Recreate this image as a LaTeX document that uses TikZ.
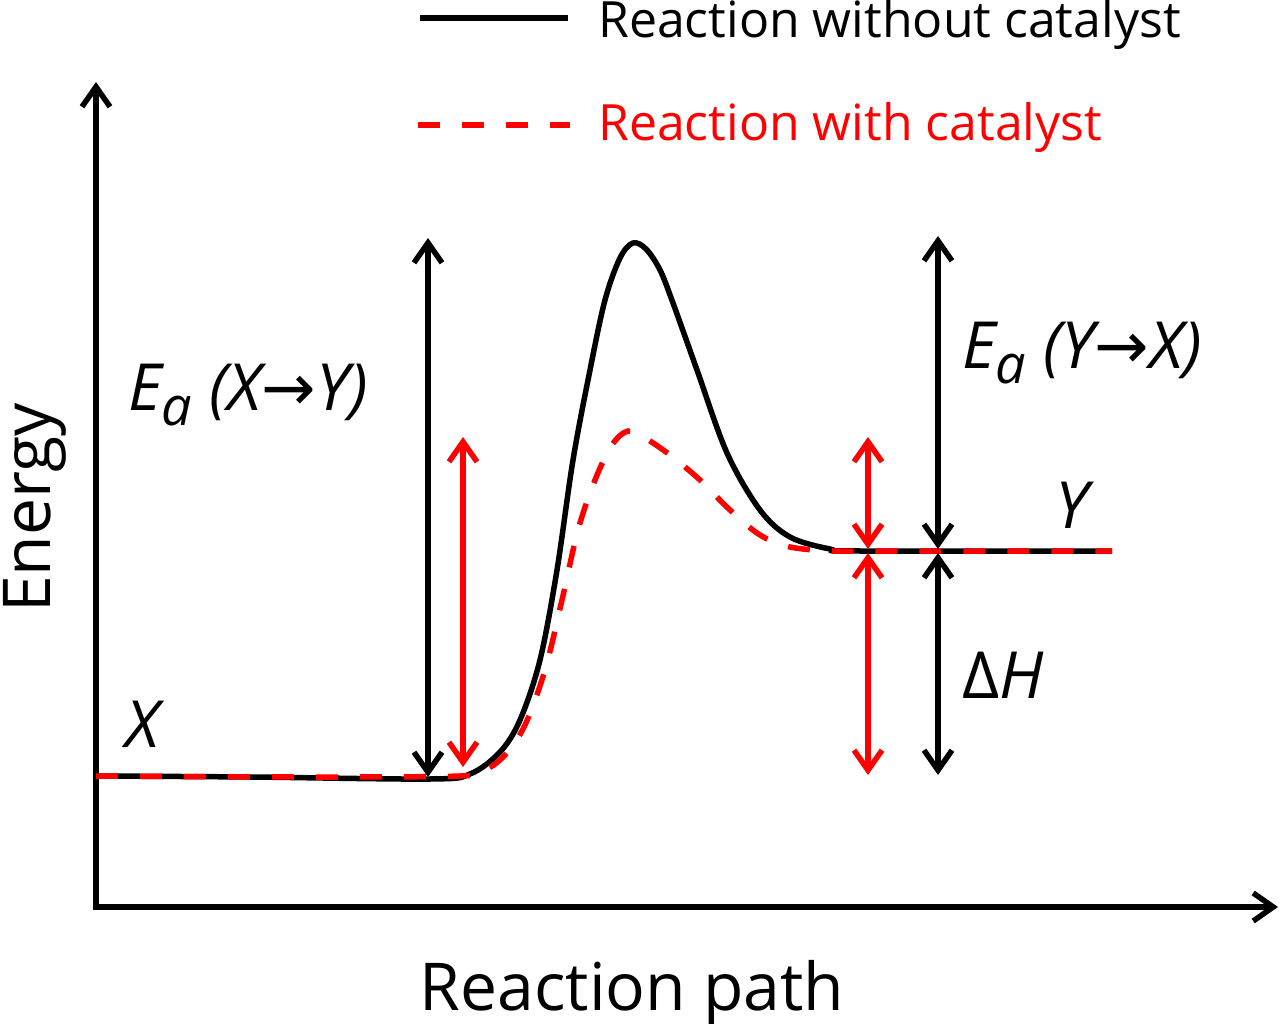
\documentclass[tikz,border=0pt]{standalone}
\usepackage{fontspec}
\setmainfont{Open Sans}
\newfontfamily\arrowfont{DejaVu Sans}
\usetikzlibrary{arrows.meta}
\definecolor{catred}{HTML}{FF0000}
\newcommand{\actE}{E\raisebox{-15pt}{\fontsize{54}{54}\selectfont a}}
\newcommand{\toarr}{{\arrowfont\upshape →}}

\begin{document}
\begin{tikzpicture}[x=1pt, y=-1pt,
  axis/.style={line width=5.5pt, {Straight Barb[length=20pt,width=28pt]}-{Straight Barb[length=20pt,width=28pt]}},
  dbl/.style={line width=5.5pt, {Straight Barb[length=20pt,width=28pt]}-{Straight Barb[length=20pt,width=28pt]}},
  path0/.style={line width=5.5pt, black},
  path1/.style={line width=5.5pt, catred, dash pattern=on 22pt off 22pt},
  lab/.style={font=\fontsize{65}{72}\selectfont\itshape, anchor=base west, inner sep=0pt},
  key/.style={font=\fontsize{50}{58}\selectfont, anchor=base west, inner sep=0pt}]
\useasboundingbox (0,0) rectangle (1280,1024);
% axes
\coordinate (origin) at (96,907);
\coordinate (ytop) at (96,82);
\coordinate (xend) at (1278,907);
\draw[axis] (ytop) -- (origin) -- (xend);
\node[font=\fontsize{66}{72}\selectfont, rotate=90, anchor=base, inner sep=0pt] (energy) at (50,508) {Energy};
\node[font=\fontsize{66}{72}\selectfont, anchor=base, inner sep=0pt] (rpath) at (632,1010) {Reaction path};
% legend
\coordinate (k0a) at (420,18);
\coordinate (k0b) at (568,18);
\coordinate (k1a) at (418,125);
\coordinate (k1b) at (570,125);
\draw[path0] (k0a) -- (k0b);
\draw[path1] (k1a) -- (k1b);
\node[key] (key0) at (598,38) {Reaction without catalyst};
\node[key, text=catred] (key1) at (598,141) {Reaction with catalyst};
% energy profiles
\draw[path0] plot[smooth, tension=0.55] coordinates {(96,776) (250,777) (430,779) (470,774) (500,752) (520,720)
  (540,660) (557,570) (573,460) (590,370) (605,300) (620,258) (633,243) (646,249) (660,270) (673,303)
  (697,370) (727,453) (760,510) (790,537) (830,549) (860,551) (1112,551)};
\draw[path1] plot[smooth, tension=0.55] coordinates {(96,776) (300,777) (460,776) (485,770) (505,755) (525,725)
  (545,670) (562,600) (578,530) (595,480) (612,445) (628,431) (645,438) (670,455) (700,480) (730,510)
  (760,535) (790,547) (830,551) (860,551) (1112,551)};
% activation energies and enthalpy
\coordinate (ea0top) at (428,238);
\coordinate (ea0bot) at (428,777);
\coordinate (ea1top) at (463,437);
\coordinate (ea1bot) at (463,767);
\coordinate (eb1top) at (868,437);
\coordinate (eb1bot) at (868,549);
\coordinate (dh1top) at (868,553);
\coordinate (dh1bot) at (868,775);
\coordinate (eb0top) at (938,236);
\coordinate (eb0bot) at (938,549);
\coordinate (dh0top) at (938,553);
\coordinate (dh0bot) at (938,775);
\draw[dbl] (ea0top) -- (ea0bot);
\draw[dbl, catred] (ea1top) -- (ea1bot);
\draw[dbl, catred] (eb1top) -- (eb1bot);
\draw[dbl, catred] (dh1top) -- (dh1bot);
\draw[dbl] (eb0top) -- (eb0bot);
\draw[dbl] (dh0top) -- (dh0bot);
\node[lab] (eafwd) at (128,410) {\actE\ (X\toarr Y)};
\node[lab] (earev) at (962,368) {\actE\ (Y\toarr X)};
\node[lab] (dh) at (962,698) {\upshape Δ\itshape H};
\node[lab] (xlab) at (125,747) {X};
\node[lab] (ylab) at (1055,528) {Y};
\end{tikzpicture}
\end{document}
